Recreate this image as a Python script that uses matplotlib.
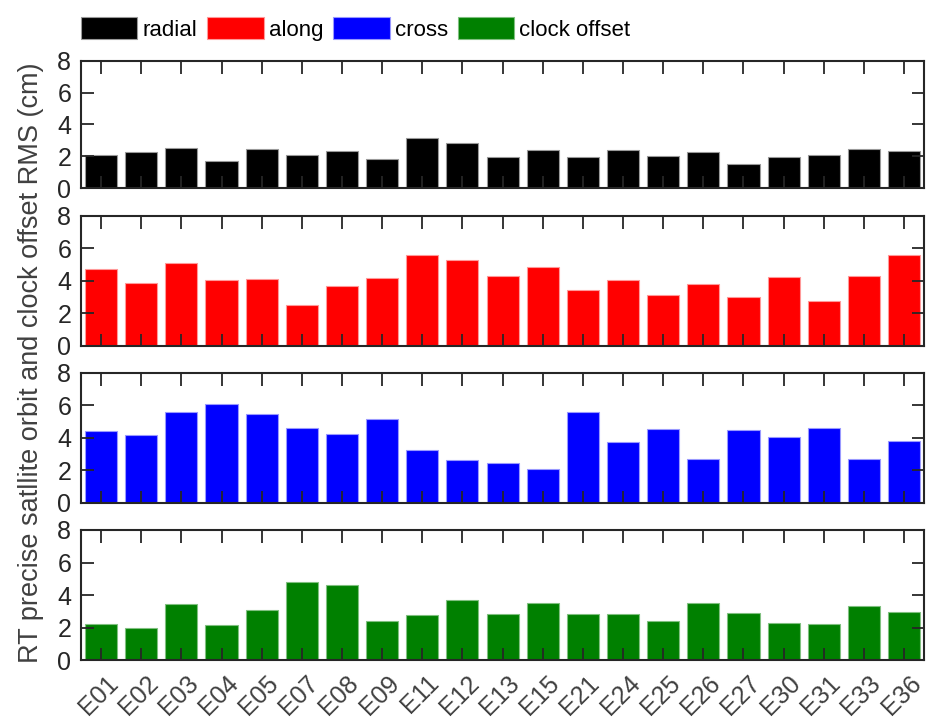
"""GNSS RT orbit/clock RMS per satellite"""

import matplotlib
matplotlib.use('Agg')
import matplotlib.pyplot as plt
import matplotlib.transforms as mtransforms
import numpy as np

plt.rcParams['font.family'] = ['Liberation Sans', 'DejaVu Sans']

sats = ['E01', 'E02', 'E03', 'E04', 'E05', 'E07', 'E08', 'E09', 'E11', 'E12', 'E13',
        'E15', 'E21', 'E24', 'E25', 'E26', 'E27', 'E30', 'E31', 'E33', 'E36']

radial = [2.07, 2.28, 2.55, 1.69, 2.44, 2.09, 2.36, 1.84, 3.13, 2.82, 1.94,
          2.38, 1.94, 2.40, 2.03, 2.25, 1.52, 1.96, 2.09, 2.44, 2.32]
along = [4.70, 3.86, 5.09, 4.04, 4.08, 2.48, 3.65, 4.16, 5.58, 5.29, 4.29,
         4.84, 3.43, 4.04, 3.14, 3.77, 2.97, 4.21, 2.75, 4.29, 5.60]
cross = [4.39, 4.16, 5.60, 6.09, 5.46, 4.57, 4.23, 5.13, 3.22, 2.61, 2.42,
         2.05, 5.58, 3.71, 4.53, 2.67, 4.45, 4.04, 4.60, 2.69, 3.82]
clock = [2.24, 1.97, 3.43, 2.13, 3.10, 4.78, 4.64, 2.38, 2.75, 3.67, 2.83,
         3.49, 2.81, 2.83, 2.40, 3.49, 2.87, 2.28, 2.22, 3.30, 2.93]

series = [radial, along, cross, clock]
names = ['radial', 'along', 'cross', 'clock offset']
colors = ['black', 'red', 'blue', 'green']
edges = ['#999999', '#ff9999', '#9999ff', '#80c080']

fig = plt.figure(figsize=(9.26, 7.2), dpi=100)

left, right = 0.0875, 0.998
panels = [(0.7385, 0.9157), (0.5199, 0.7004), (0.3018, 0.4824), (0.0833, 0.2639)]
x = np.arange(len(sats))
txt = '#262626'

handles = []
for i in range(4):
    b, t = panels[i]
    ax = fig.add_axes([left, b, right - left, t - b])
    bars = ax.bar(x, series[i], width=0.8, color=colors[i], edgecolor=edges[i], linewidth=0.8)
    handles.append(bars)
    ax.set_xlim(-0.5, len(sats) - 0.5)
    ax.set_ylim(0, 8)
    ax.set_yticks([0, 2, 4, 6, 8])
    ax.set_xticks(x)
    ax.tick_params(direction='in', length=9, width=1.3, color=txt,
                   top=True, right=True, labelsize=18, labelcolor=txt)
    ax.tick_params(axis='y', pad=7)
    for s in ax.spines.values():
        s.set_linewidth(1.5)
        s.set_color(txt)
    if i < 3:
        ax.set_xticklabels([])
    else:
        ax.tick_params(axis='x', pad=14)
        ax.set_xticklabels(sats, rotation=45, ha='right', va='center',
                           rotation_mode='anchor', color='#404040')
        shift = mtransforms.ScaledTranslation(0.13, 0, fig.dpi_scale_trans)
        for lab in ax.get_xticklabels():
            lab.set_transform(lab.get_transform() + shift)

fig.text(0.033, 0.496, 'RT precise satllite orbit and clock offset RMS (cm)',
         rotation=90, va='center', ha='center', fontsize=19.5, color='#404040')

fig.legend(handles, names, loc='center', bbox_to_anchor=(0.384, 0.96), ncol=4,
           frameon=False, fontsize=16,
           handlelength=2.55, handleheight=1.15,
           handletextpad=0.22, columnspacing=0.45, borderpad=0)

fig.savefig('out.png', dpi=100)
